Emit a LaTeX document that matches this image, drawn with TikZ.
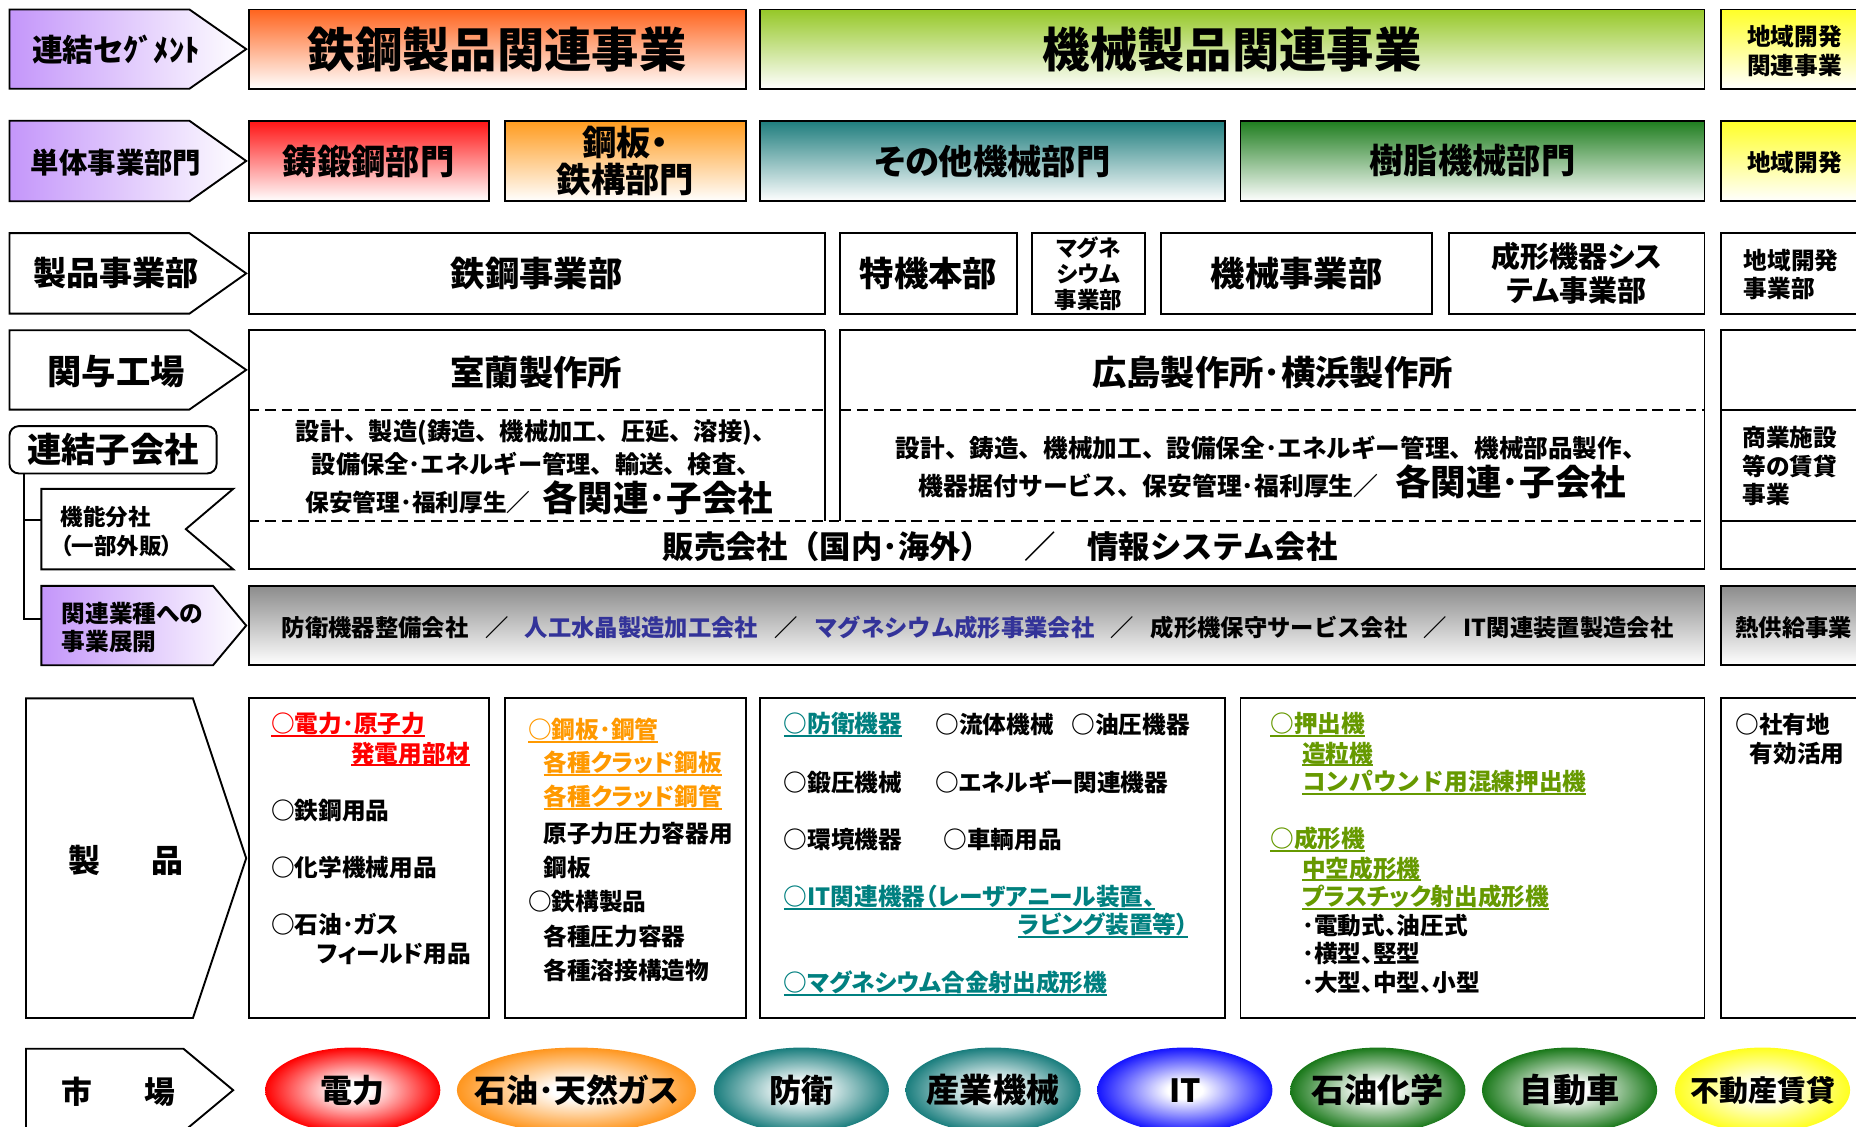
\documentclass[tikz,border=0pt]{standalone}
\usepackage{fontspec}
\setmainfont{Noto Sans CJK JP}[RawFeature=+palt]
\newfontfamily\jpn{Noto Sans CJK JP}
\usetikzlibrary{shapes.geometric}
\definecolor{cPurp}{RGB}{196,150,250}
\definecolor{cSteel}{RGB}{255,100,30}
\definecolor{cMach}{RGB}{150,200,40}
\definecolor{cYel}{RGB}{255,255,40}
\definecolor{cRed}{RGB}{255,20,20}
\definecolor{cOra}{RGB}{255,155,30}
\definecolor{cTeal}{RGB}{30,125,125}
\definecolor{cGrn}{RGB}{30,125,30}
\definecolor{cGray}{RGB}{140,140,140}
\definecolor{tRed}{RGB}{255,0,0}
\definecolor{tOra}{RGB}{255,153,0}
\definecolor{tTeal}{RGB}{0,128,128}
\definecolor{tGrn}{RGB}{102,153,0}
\definecolor{tBlue}{RGB}{51,51,153}
\definecolor{mOra}{RGB}{255,150,30}
\definecolor{mTeal}{RGB}{25,125,125}
\definecolor{mBlue}{RGB}{20,20,255}
\definecolor{mGrn}{RGB}{25,120,25}
\definecolor{mYel}{RGB}{255,255,30}
\colorlet{mktcol}{red}
\pgfdeclareradialshading[mktcol]{mkt}{\pgfpointorigin}{color(0bp)=(white); color(5bp)=(white); color(25bp)=(mktcol); color(50bp)=(mktcol)}
\newcommand\fsz[2]{\fontsize{#1}{#2}\bfseries}
\newcommand\fsn[2]{\fontsize{#1}{#2}\jpn\bfseries}
\newcommand\uln[1]{\setbox0=\hbox{#1}\rlap{\rule[-3.5pt]{\wd0}{1.6pt}}\box0}
\newcommand\cln[2]{\textcolor{#1}{\uln{#2}}}
\newcommand\slsh{\hspace{14pt}／\hspace{14pt}}
\newcommand\bx[7]{\node[bx,#6,minimum width={#4-#2},minimum height={#5-#3}] (#1) at ({(#2+#4)/2},{(#3+#5)/2}) {#7};}
\begin{document}
\begin{tikzpicture}[x=1pt,y=-1pt,line join=miter,
  bx/.style={draw,line width=1.6pt,inner sep=0pt,align=center},
  lw/.style={line width=1.6pt},
  dsh/.style={line width=1.7pt,dash pattern=on 9pt off 5pt},
  lab/.style={inner sep=0pt,align=center},
  it/.style={anchor=west,inner sep=0pt,font=\fsz{20}{24}},
  ite/.style={anchor=east,inner sep=0pt,font=\fsz{20}{24}},
  mkt/.style={ellipse,draw=none,inner sep=0pt,minimum width=148,minimum height=72,
     /utils/exec={\colorlet{mktcol}{#1}},shade,shading=mkt},
  mktx/.style={inner sep=0pt,font=\fsz{27}{30}}]
\useasboundingbox (0,0) rectangle (1568,952);
\clip (0,0) rectangle (1568,952);
\fill[white] (0,0) rectangle (1568,952);

% ---------- Row 1
\shade[left color=cPurp,right color=white,draw,lw] (8,8)--(160,8)--(208,41.5)--(160,75)--(8,75)--cycle;
\node[lab,font=\fsz{26}{30}] (a1) at (98,42) {連結セｸﾞﾒﾝﾄ};
\bx{r1a}{210}{8}{630}{75}{top color=cSteel,bottom color=white,font=\fsz{40}{44}}{鉄鋼製品関連事業}
\bx{r1b}{642}{8}{1440}{75}{top color=cMach,bottom color=white,font=\fsz{40}{44}}{機械製品関連事業}
\bx{r1c}{1454}{8}{1580}{75}{top color=cYel,bottom color=white}{}
\node[lab,font=\fsz{20}{24}] (t1c) at (1516,43) {地域開発\\関連事業};

% ---------- Row 2
\shade[left color=cPurp,right color=white,draw,lw] (8,102)--(160,102)--(208,136)--(160,170)--(8,170)--cycle;
\node[lab,font=\fsz{24}{28}] (a2) at (98,137) {単体事業部門};
\bx{r2a}{210}{102}{413}{170}{top color=cRed,bottom color=white,font=\fsz{29}{32}}{鋳鍛鋼部門}
\bx{r2b}{427}{102}{630}{170}{top color=cOra,bottom color=white,font=\fsz{29}{31}}{鋼板・\\鉄構部門}
\bx{r2c}{642}{102}{1035}{170}{top color=cTeal,bottom color=white,font=\fsz{29}{32}}{その他機械部門}
\bx{r2d}{1048}{102}{1440}{170}{top color=cGrn,bottom color=white,font=\fsz{29}{32}}{樹脂機械部門}
\bx{r2e}{1454}{102}{1580}{170}{top color=cYel,bottom color=white}{}
\node[lab,font=\fsz{20}{24}] (t2e) at (1516,137) {地域開発};

% ---------- Row 3
\draw[lw,fill=white] (8,197)--(160,197)--(208,231)--(160,265)--(8,265)--cycle;
\node[lab,font=\fsz{28}{32}] (a3) at (98,231) {製品事業部};
\bx{r3a}{210}{197}{697}{265}{font=\fsz{29}{32}}{鉄鋼事業部}
\bx{r3b}{710}{197}{859}{265}{font=\fsz{29}{32}}{特機本部}
\bx{r3c}{872}{197}{967}{265}{font=\fsz{19}{22}}{マグネ\\シウム\\事業部}
\bx{r3d}{981}{197}{1210}{265}{font=\fsz{29}{32}}{機械事業部}
\bx{r3e}{1224}{197}{1440}{265}{font=\fsz{24.5}{29}}{成形機器シス\\テム事業部}
\bx{r3f}{1454}{197}{1580}{265}{}{}
\node[lab,align=left,anchor=west,font=\fsz{20}{24}] (t3f) at (1473,232) {地域開発\\事業部};

% ---------- Row 4 (factories)
\draw[lw,fill=white] (8,279)--(160,279)--(208,312.5)--(160,346)--(8,346)--cycle;
\node[lab,font=\fsz{29}{32}] (a4) at (98,314) {関与工場};
\draw[lw] (697,279) -- (210,279) -- (210,481) -- (1440,481) -- (1440,279) -- (710,279) -- (710,440);
\draw[lw] (697,279) -- (697,440);
\draw[dsh] (210,440) -- (1440,440);
\draw[dsh] (210,346) -- (697,346);
\draw[dsh] (710,346) -- (1440,346);
\draw[lw] (1580,279) -- (1454,279) -- (1454,481) -- (1580,481);
\draw[lw] (1454,346) -- (1580,346);
\draw[lw] (1454,440) -- (1580,440);
\node[lab,font=\fsz{29}{32}] (muro) at (453,315) {室蘭製作所};
\node[lab,font=\fsz{29}{32}] (hiro) at (1075,315) {広島製作所･横浜製作所};
\node[lab,font=\fsn{20.5}{28}] (muro1) at (453,378) {設計、製造(鋳造、機械加工、圧延、溶接)、\\設備保全･エネルギー管理、輸送、検査、};
\node[lab,anchor=base west] (muro3) at (258,432) {{\fsn{20}{24}保安管理･福利厚生／}\hspace{10pt}{\fsz{30}{34}各関連･子会社}};
\node[lab,font=\fsn{20.8}{24}] (hiro1) at (1074,378) {設計、鋳造、機械加工、設備保全･エネルギー管理、機械部品製作、};
\node[lab,anchor=base] (hiro2) at (1075,419) {{\fsn{21}{24}機器据付サービス、保安管理･福利厚生／}\hspace{14pt}{\fsz{30}{34}各関連･子会社}};
\node[lab,anchor=base,font=\fsn{26.5}{30}] (hanbai) at (845,472) {販売会社（国内･海外）\hspace{27pt}／\hspace{27pt}情報システム会社};
\node[lab,align=left,anchor=west,font=\fsz{20}{24}] (shogyo) at (1472,394) {商業施設\\等の賃貸\\事業};

% ---------- subsidiaries
\node[draw,lw,rounded corners=8pt,minimum width=175,minimum height=40,inner sep=0pt,font=\fsz{29}{32}] (rk) at (95.5,380) {連結子会社};
\draw[lw,fill=white] (35,413) -- (197,413) -- (157,447) -- (197,481) -- (35,481) -- cycle;
\node[lab,align=left,anchor=west,font=\fsz{19}{25}] (kino) at (51,449) {機能分社\\（一部外販）};
\shade[left color=cPurp,right color=white,draw,lw] (35,495)--(180,495)--(208,528.5)--(180,562)--(35,562)--cycle;
\node[lab,align=left,anchor=west,font=\fsz{20}{24}] (kanren) at (52,530) {関連業種への\\事業展開};
\coordinate (kinoW) at (35,439);
\coordinate (kanW) at (35,523);
\draw[lw] ([xshift=13pt]rk.south west) |- (kanW);
\draw[lw] ([xshift=13pt]rk.south west |- kinoW) -- (kinoW);
\bx{gr}{210}{495}{1440}{562}{top color=cGray,bottom color=white}{}
\node[lab,font=\fsn{19.7}{24}] (grt) at (826,530) {防衛機器整備会社\slsh\textcolor{tBlue}{人工水晶製造加工会社}\slsh\textcolor{tBlue}{マグネシウム成形事業会社}\slsh 成形機保守サービス会社\slsh IT関連装置製造会社};
\bx{gr2}{1454}{495}{1580}{562}{top color=cGray,bottom color=white}{}
\node[lab,anchor=west,font=\fsn{19.7}{24}] (netsu) at (1466,530) {熱供給事業};

% ---------- Products
\draw[lw,fill=white] (22,590)--(163,590)--(208,725)--(163,860)--(22,860)--cycle;
\node[lab,font=\fsz{27}{30}] (seihin) at (106.5,727) {製\hspace{43pt}品};
\bx{p1}{210}{590}{413}{860}{}{}
\bx{p2}{427}{590}{630}{860}{}{}
\bx{p3}{642}{590}{1035}{860}{}{}
\bx{p4}{1048}{590}{1440}{860}{}{}
\bx{p5}{1454}{590}{1580}{860}{}{}
% box 1
\node[it] (p1a) at (229,612) {\cln{tRed}{○電力･原子力}};
\node[ite] (p1b) at (397,637) {\cln{tRed}{発電用部材}};
\node[it] (p1c) at (229,685) {○鉄鋼用品};
\node[it] (p1d) at (229,733) {○化学機械用品};
\node[it] (p1e) at (229,781) {○石油･ガス};
\node[it] (p1f) at (268,806) {フィールド用品};
% box 2
\node[it] (p2a) at (446,617) {\cln{tOra}{○鋼板･鋼管}};
\node[it] (p2b) at (459,645) {\cln{tOra}{各種クラッド鋼板}};
\node[it] (p2c) at (459,674) {\cln{tOra}{各種クラッド鋼管}};
\node[it] (p2d) at (459,704) {原子力圧力容器用};
\node[it] (p2e) at (459,733) {鋼板};
\node[it] (p2f) at (446,762) {○鉄構製品};
\node[it] (p2g) at (459,791) {各種圧力容器};
\node[it] (p2h) at (459,820) {各種溶接構造物};
% box 3
\node[it] (p3a) at (662,612) {\cln{tTeal}{○防衛機器}};
\node[it] (p3b) at (790,612) {○流体機械};
\node[it] (p3c) at (905,612) {○油圧機器};
\node[it] (p3d) at (662,661) {○鍛圧機械};
\node[it] (p3e) at (790,661) {○エネルギー関連機器};
\node[it] (p3f) at (662,709) {○環境機器};
\node[it] (p3g) at (797,709) {○車輌用品};
\node[it] (p3h) at (662,758) {\cln{tTeal}{○IT関連機器（レーザアニール装置、}};
\node[ite] (p3i) at (1004,782) {\cln{tTeal}{ラビング装置等）}};
\node[it] (p3j) at (662,831) {\cln{tTeal}{○マグネシウム合金射出成形機}};
% box 4
\node[it] (p4a) at (1073,612) {\cln{tGrn}{○押出機}};
\node[it] (p4b) at (1100,637) {\cln{tGrn}{造粒機}};
\node[it,font=\fsn{20}{24}] (p4c) at (1100,661) {\cln{tGrn}{コンパウンド用混練押出機}};
\node[it] (p4d) at (1073,709) {\cln{tGrn}{○成形機}};
\node[it] (p4e) at (1100,734) {\cln{tGrn}{中空成形機}};
\node[it] (p4f) at (1100,758) {\cln{tGrn}{プラスチック射出成形機}};
\node[it] (p4g) at (1100,782) {･電動式、油圧式};
\node[it] (p4h) at (1100,806) {･横型、竪型};
\node[it] (p4i) at (1100,830) {･大型、中型、小型};
% box 5
\node[it] (p5a) at (1466,612) {○社有地};
\node[it] (p5b) at (1478,637) {有効活用};

% ---------- Markets
\draw[lw,fill=white] (22,886)--(155,886)--(197,921)--(155,956)--(22,956)--cycle;
\node[lab,font=\fsz{26}{30}] (ichiba) at (100,922) {市\hspace{44pt}場};
\node[mkt=red] (m1) at (298,921) {};
\node[mkt=mOra,minimum width=202] (m2) at (487,921) {};
\node[mkt=mTeal] (m3) at (677,921) {};
\node[mkt=mTeal] (m4) at (839,921) {};
\node[mkt=mBlue] (m5) at (1001,921) {};
\node[mkt=mGrn] (m6) at (1164,921) {};
\node[mkt=mGrn] (m7) at (1326,921) {};
\node[mkt=mYel] (m8) at (1489,921) {};
\node[mktx] (m1t) at (m1) {電力};
\node[mktx] (m2t) at (m2) {石油･天然ガス};
\node[mktx] (m3t) at (m3) {防衛};
\node[mktx,font=\fsz{28}{30}] (m4t) at (m4) {産業機械};
\node[mktx] (m5t) at (m5) {IT};
\node[mktx,font=\fsz{28}{30}] (m6t) at (m6) {石油化学};
\node[mktx,font=\fsz{28}{30}] (m7t) at (m7) {自動車};
\node[mktx,font=\fsz{24.5}{28}] (m8t) at (m8) {不動産賃貸};
\end{tikzpicture}
\end{document}
